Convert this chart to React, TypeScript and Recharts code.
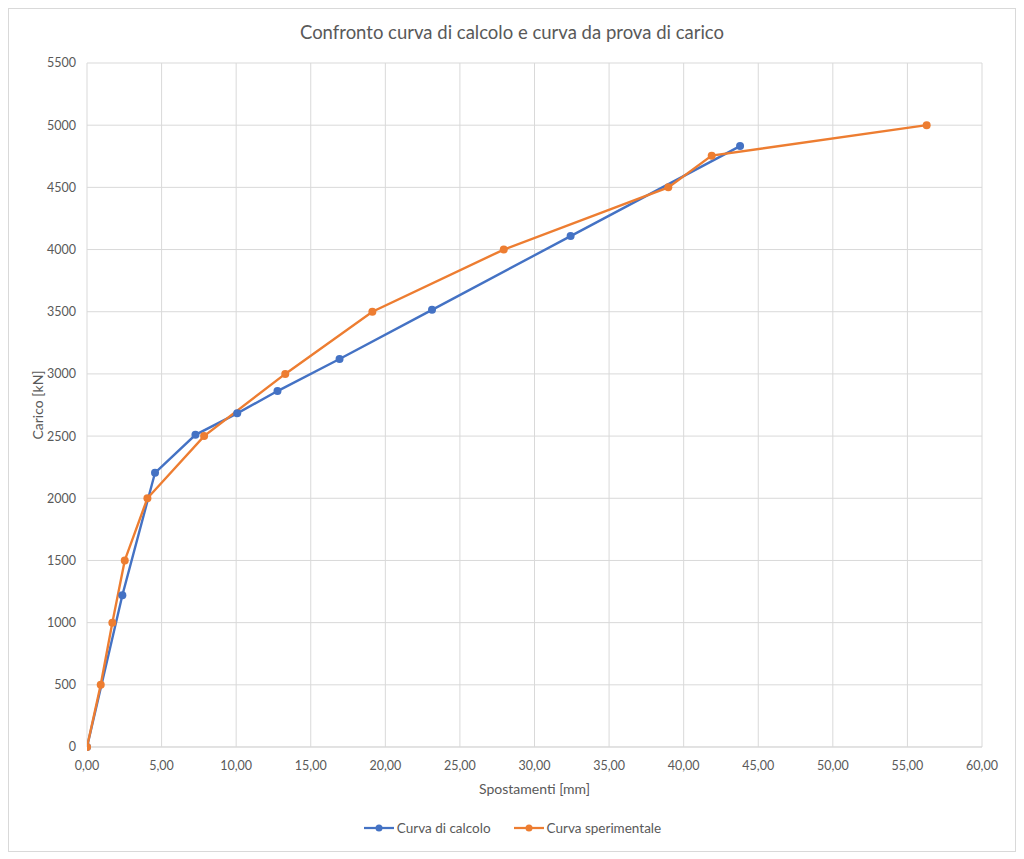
import {CartesianGrid, Legend, Line, LineChart, XAxis, YAxis} from "recharts";

const calcX = [0, 2.37, 4.56, 7.27, 10.07, 12.77, 16.93, 23.13, 32.42, 43.78];
const calcY = [0, 1220, 2205, 2510, 2683, 2862, 3120, 3515, 4108, 4832];

const provaX = [0, 0.92, 1.7, 2.53, 4.05, 7.85, 13.29, 19.13, 27.94, 38.97, 41.88, 56.29];
const provaY = [0, 500, 1000, 1500, 2000, 2500, 3000, 3500, 4000, 4500, 4755, 5000];

const xTicks = [0, 5, 10, 15, 20, 25, 30, 35, 40, 45, 50, 55, 60];
const yTicks = [0, 500, 1000, 1500, 2000, 2500, 3000, 3500, 4000, 4500, 5000, 5500];

const BLUE = "#4472C4";
const ORANGE = "#ED7D31";
const TEXT = "#595959";
const GRID = "#d9d9d9";
const FONT = "Lato, 'Open Sans', sans-serif";

const calcData = calcX.map((x, i) => ({x, y: calcY[i]}));
const provaData = provaX.map((x, i) => ({x, y: provaY[i]}));

const W = 1006;
const H = 842;

const tick = {fontSize: 12.5, fill: TEXT, fontFamily: FONT};

function LegendContent() {
  const items = [
    {label: "Curva di calcolo", color: BLUE},
    {label: "Curva sperimentale", color: ORANGE},
  ];
  return (
    <div style={{display: "flex", justifyContent: "center", gap: 22, fontFamily: FONT, fontSize: 13.5, color: TEXT}}>
      {items.map((it) => (
        <div key={it.label} style={{display: "flex", alignItems: "center"}}>
          <svg width={32} height={10}>
            <line x1={1} y1={5} x2={31} y2={5} stroke={it.color} strokeWidth={2.25} />
            <circle cx={16} cy={5} r={3.5} fill={it.color} />
          </svg>
          <span style={{marginLeft: 2}}>{it.label}</span>
        </div>
      ))}
    </div>
  );
}

export default function App() {
  return (
    <div style={{position: "relative", width: W, height: H, border: `1px solid ${GRID}`, background: "#fff"}}>
      <div
        style={{
          position: "absolute",
          top: 12,
          left: 0,
          width: W,
          textAlign: "center",
          fontFamily: FONT,
          fontSize: 18.5,
          color: TEXT,
        }}
      >
        Confronto curva di calcolo e curva da prova di carico
      </div>
      <LineChart width={W} height={H} margin={{top: 54, right: 33, left: 0, bottom: 64}}>
        <CartesianGrid stroke={GRID} strokeWidth={1} />
        <XAxis
          type="number"
          dataKey="x"
          domain={[0, 60]}
          ticks={xTicks}
          interval={0}
          tickFormatter={(v: number) => v.toFixed(2).replace(".", ",")}
          tick={tick}
          tickLine={false}
          tickSize={0}
          tickMargin={14}
          axisLine={{stroke: GRID}}
          height={40}
          allowDataOverflow
          label={(props: any) => {
            const vb = props.viewBox ?? {x: 78, width: 895};
            return (
              <text x={vb.x + vb.width / 2} y={785} textAnchor="middle" fontFamily={FONT} fontSize={14} fill={TEXT}>
                Spostamenti [mm]
              </text>
            );
          }}
        />
        <YAxis
          type="number"
          dataKey="y"
          domain={[0, 5500]}
          ticks={yTicks}
          interval={0}
          tick={tick}
          tickLine={false}
          tickSize={0}
          tickMargin={11}
          axisLine={false}
          width={78}
          label={(props: any) => {
            const vb = props.viewBox ?? {y: 54, height: 684};
            const cy = vb.y + vb.height / 2;
            return (
              <text
                x={28}
                y={cy}
                textAnchor="middle"
                dominantBaseline="central"
                transform={`rotate(-90, 28, ${cy})`}
                fontFamily={FONT}
                fontSize={14}
                fill={TEXT}
              >
                Carico [kN]
              </text>
            );
          }}
        />
        <Legend verticalAlign="middle" align="center" wrapperStyle={{top: 811, left: 0, width: W}} content={<LegendContent />} />
        <Line
          data={calcData}
          dataKey="y"
          name="Curva di calcolo"
          stroke={BLUE}
          strokeWidth={2.4}
          dot={{r: 4, fill: BLUE, stroke: BLUE, strokeWidth: 0}}
          activeDot={false}
          isAnimationActive={false}
        />
        <Line
          data={provaData}
          dataKey="y"
          name="Curva sperimentale"
          stroke={ORANGE}
          strokeWidth={2.4}
          dot={{r: 4, fill: ORANGE, stroke: ORANGE, strokeWidth: 0}}
          activeDot={false}
          isAnimationActive={false}
        />
      </LineChart>
    </div>
  );
}
